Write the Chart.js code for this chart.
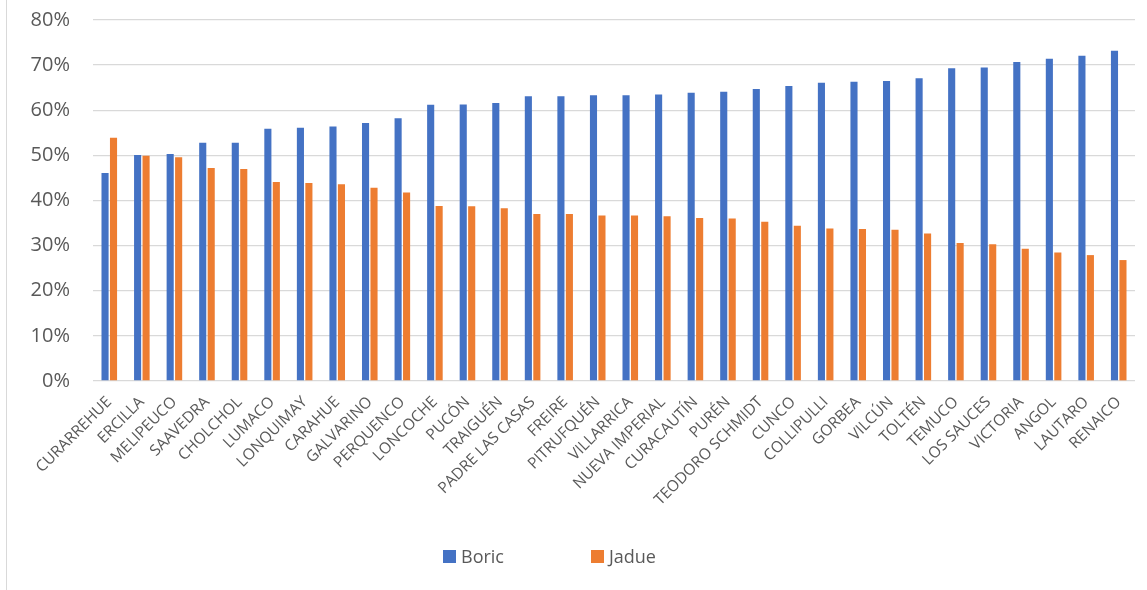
<!DOCTYPE html>
<html>
<head>
<meta charset="utf-8">
<script src="https://cdn.jsdelivr.net/npm/chart.js@4"></script>
<style>
    body { margin: 0; background: #fff; }
    #wrap { position: relative; width: 1147px; height: 590px; }
    #frameLine { position: absolute; left: 6px; top: 0; width: 1px; height: 590px; background: #d9d9d9; }
    #legend {
        position: absolute; left: -24px; top: 544px; width: 1147px;
        display: flex; justify-content: center; gap: 87px;
        font-family: "Open Sans", sans-serif; font-size: 18px; color: #595959;
    }
    #legend span.item { display: flex; align-items: center; }
    #legend span.box { display: inline-block; width: 13px; height: 13px; margin-right: 5px; }
</style>
</head>
<body>
<div id="wrap">
    <canvas id="votesChart" width="1147" height="590"></canvas>
    <div id="frameLine"></div>
    <div id="legend"></div>
</div>
<script>
// Comunas (sorted by Boric share)
const comunas = [
    'CURARREHUE', 'ERCILLA', 'MELIPEUCO', 'SAAVEDRA', 'CHOLCHOL', 'LUMACO', 'LONQUIMAY',
    'CARAHUE', 'GALVARINO', 'PERQUENCO', 'LONCOCHE', 'PUCÓN', 'TRAIGUÉN', 'PADRE LAS CASAS',
    'FREIRE', 'PITRUFQUÉN', 'VILLARRICA', 'NUEVA IMPERIAL', 'CURACAUTÍN', 'PURÉN',
    'TEODORO SCHMIDT', 'CUNCO', 'COLLIPULLI', 'GORBEA', 'VILCÚN', 'TOLTÉN', 'TEMUCO',
    'LOS SAUCES', 'VICTORIA', 'ANGOL', 'LAUTARO', 'RENAICO'
];

// Vote share, %
const boric = [
    46.1, 50.1, 50.3, 52.8, 52.8, 55.9, 56.1, 56.4, 57.2, 58.2, 61.2, 61.3, 61.6, 63.1,
    63.1, 63.3, 63.3, 63.5, 63.9, 64.1, 64.7, 65.4, 66.1, 66.3, 66.5, 67.1, 69.3,
    69.5, 70.7, 71.4, 72.1, 73.2
];
const jadue = [
    53.9, 49.9, 49.6, 47.2, 47.0, 44.1, 43.9, 43.6, 42.8, 41.8, 38.8, 38.7, 38.3, 37.0,
    37.0, 36.7, 36.7, 36.5, 36.1, 36.0, 35.3, 34.4, 33.8, 33.7, 33.5, 32.7, 30.6,
    30.3, 29.3, 28.5, 27.9, 26.8
];

const yTicks = [0, 10, 20, 30, 40, 50, 60, 70, 80];

const series = [
    { label: 'Boric', data: boric, color: '#4472C4' },
    { label: 'Jadue', data: jadue, color: '#ED7D31' }
];

const textColor = '#595959';
const fontFamily = '"Open Sans", sans-serif';

// Bar chart
function initVotesChart() {
    const ctx = document.getElementById('votesChart');

    return new Chart(ctx, {
        type: 'bar',
        data: {
            labels: comunas,
            datasets: series.map(s => ({
                label: s.label,
                data: s.data,
                backgroundColor: s.color,
                borderWidth: 0,
                categoryPercentage: 0.52,
                barPercentage: 0.84
            }))
        },
        options: {
            responsive: false,
            animation: false,
            layout: { padding: { top: 20, right: 12, bottom: 0, left: 0 } },
            plugins: {
                legend: { display: false },
                tooltip: { enabled: false }
            },
            scales: {
                x: {
                    grid: { display: false },
                    border: { display: false },
                    ticks: {
                        autoSkip: false,
                        maxRotation: 45,
                        minRotation: 45,
                        padding: 4,
                        color: textColor,
                        font: { family: fontFamily, size: 15.5 }
                    },
                    afterFit: scale => { scale.height = 209; }
                },
                y: {
                    min: 0,
                    max: 80,
                    afterBuildTicks: scale => {
                        scale.ticks = yTicks.map(v => ({ value: v }));
                    },
                    grid: { color: '#d9d9d9', lineWidth: 1.3, drawTicks: false },
                    border: { display: false },
                    ticks: {
                        padding: 23,
                        color: textColor,
                        font: { family: fontFamily, size: 20 },
                        callback: v => v + '%'
                    },
                    // fixed axis width, no extra room for half labels
                    afterFit: scale => {
                        scale.width = 93;
                        scale.paddingTop = 0;
                        scale.paddingBottom = 0;
                    }
                }
            }
        }
    });
}

// Legend (html, below the chart)
function buildLegend() {
    const box = document.getElementById('legend');
    series.forEach(s => {
        const item = document.createElement('span');
        item.className = 'item';
        item.innerHTML = `<span class="box" style="background:${s.color}"></span>${s.label}`;
        box.appendChild(item);
    });
}

initVotesChart();
buildLegend();
</script>
</body>
</html>
